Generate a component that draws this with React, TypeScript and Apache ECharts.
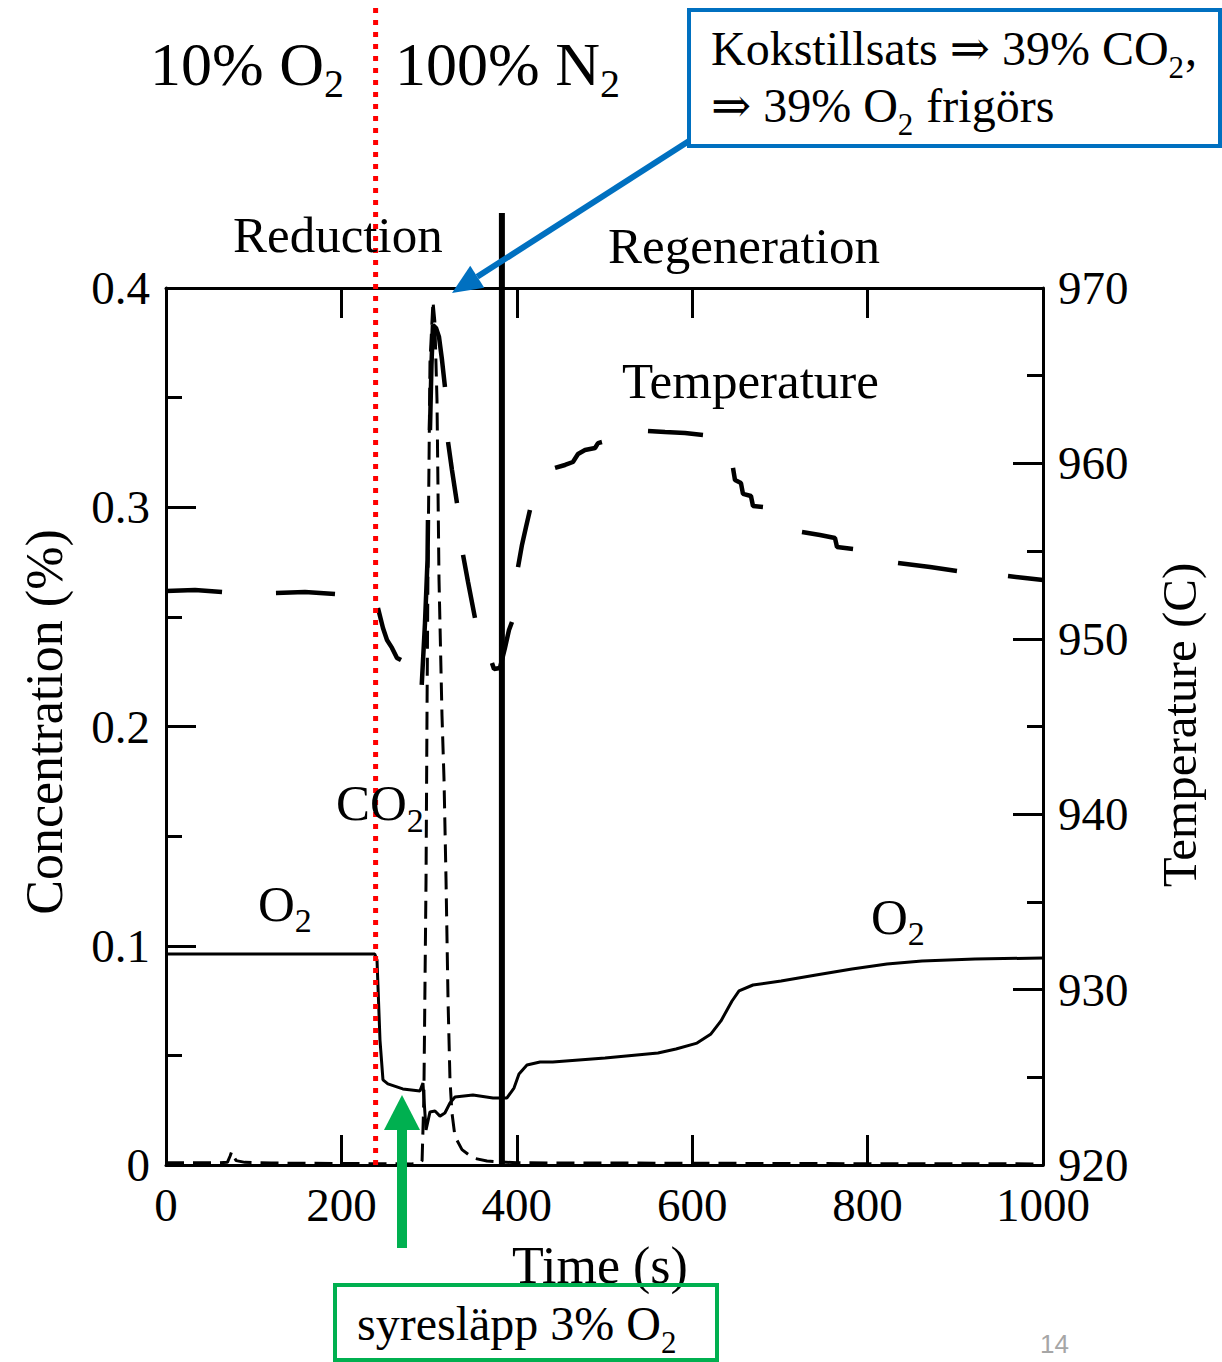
import React, { useEffect, useRef } from "react";
import * as echarts from "echarts";

// ---- data ----
const xTicks = { min: 0, max: 1000, step: 200 };
const concTicks = { min: 0, max: 0.4, step: 0.1, minor: 0.05 };
const tempTicks = { min: 920, max: 970, step: 10, minor: 5 };

const o2Time = [0, 238, 240.6, 244, 247.4, 253, 270, 289.6, 293, 296.5, 301, 306.7, 312.4, 318, 323.8, 329.5, 350, 372.9, 388.8, 396.8, 402.5, 411.6, 426.5, 441, 500.6, 561, 581.5, 605.5, 621.4, 632.8, 645.4, 653.4, 669.3, 701.3, 741.2, 782.2, 822.1, 862, 922.5, 1000];
const o2Conc = [0.0962, 0.0962, 0.0935, 0.057, 0.0388, 0.037, 0.0347, 0.0338, 0.0374, 0.016, 0.0242, 0.0246, 0.0223, 0.0237, 0.0283, 0.031, 0.0319, 0.0306, 0.0306, 0.0351, 0.0415, 0.0456, 0.047, 0.047, 0.0488, 0.0511, 0.0529, 0.0556, 0.0598, 0.0657, 0.0748, 0.0794, 0.0821, 0.0839, 0.0867, 0.0894, 0.0917, 0.093, 0.094, 0.0944];

const co2Time = [0, 60, 70, 73, 75, 77, 80, 90, 120, 200, 280, 290, 292, 294, 296.5, 297.7, 298.7, 301, 304.4, 306.5, 309, 311.3, 314.7, 317, 319.3, 321.6, 323.8, 326, 329.5, 337.5, 350, 366, 400, 500, 600, 800, 1000];
const co2Conc = [0.001, 0.001, 0.0012, 0.004, 0.0062, 0.004, 0.002, 0.0012, 0.0009, 0.0007, 0.0005, 0.0008, 0.002, 0.03, 0.13, 0.212, 0.271, 0.366, 0.394, 0.385, 0.349, 0.267, 0.205, 0.176, 0.13, 0.075, 0.039, 0.024, 0.013, 0.007, 0.0032, 0.0018, 0.001, 0.0009, 0.0008, 0.0006, 0.0005];

// null = gap between the visible long dashes of the temperature trace
const tempTime = [0, 33.1, 63.9, null, 125.4, 158.5, 192.7, null, 241.7, 247.4, 252, 257.7, 263.4, 268, null, 291.6, 295.3, 298.2, 298.7, null, 301, 302.7, 304.4, 307.9, 311.3, 314.7, 318.1, null, 321.6, 326.1, 331.8, null, 338.7, 344.4, 352.3, null, 371.7, 374, 380.8, 386.5, 391.1, 394.5, null, 401.4, 405.9, 410.5, 415, null, 443.6, 455, 464, 469.8, 477.8, 489.2, 492.6, 497.1, null, 549.6, 569, 591.8, 612.3, null, 646.5, 648.8, 655.6, 657.9, 667, 669.3, 680.7, null, 725.2, 745.7, 762.8, 765.1, 783.4, null, 834.7, 871.2, 901.9, null, 960.1, 979.5, 1000];
const tempValue = [952.73, 952.78, 952.67, null, 952.61, 952.67, 952.55, null, 951.76, 950.62, 949.93, 949.48, 948.91, 948.79, null, 947.37, 950.9, 954.49, 956.77, null, 961.9, 965.6, 967.89, 967.72, 967.21, 965.9, 964.36, null, 961.22, 959.62, 957.74, null, 954.78, 953.24, 951.19, null, 948.62, 948.28, 948.34, 949.48, 950.5, 950.96, null, 954.09, 955.35, 956.37, 957.34, null, 959.74, 959.91, 960.08, 960.54, 960.76, 960.88, 961.16, 961.22, null, 961.85, 961.79, 961.73, 961.62, null, 959.74, 959.05, 958.88, 958.26, 958.14, 957.57, 957.51, null, 956.09, 955.92, 955.75, 955.23, 955.12, null, 954.32, 954.09, 953.87, null, 953.58, 953.47, 953.35];

const gasSwitchTime = 239;
const phaseSwitchTime = 383;

const FONT = '"Liberation Serif", "Times New Roman", "DejaVu Serif", serif';
const BLUE = "#0070C0";
const GREEN = "#00B050";
const RED = "#FF0000";

const zip = (ts: (number | null)[], vs: (number | null)[]) =>
  ts.map((t, i) => (t === null || vs[i] === null ? ["-", "-"] : [t, vs[i]]));

let measureCtx: CanvasRenderingContext2D | null = null;
function textWidth(text: string, size: number) {
  if (!measureCtx) measureCtx = document.createElement("canvas").getContext("2d");
  measureCtx!.font = `${size}px ${FONT}`;
  return measureCtx!.measureText(text).width;
}

function txt(text: string, x: number, baseline: number, size: number, extra: any = {}) {
  const align = extra.align || "left";
  return {
    type: "text",
    x,
    y: baseline - 0.3375 * size,
    z: 100,
    rotation: extra.rotation || 0,
    style: {
      text,
      fontSize: size,
      fontFamily: extra.fontFamily || FONT,
      fill: extra.fill || "#000",
      align,
      textAlign: align,
      verticalAlign: "middle",
      textVerticalAlign: "middle",
    },
  };
}

// sequence of [text, isSub] pieces starting at x with given baseline
function subLine(pieces: [string, boolean][], x: number, baseline: number, size: number, subSize: number, drop: number) {
  const els: any[] = [];
  let cx = x;
  for (const [t, isSub] of pieces) {
    const s = isSub ? subSize : size;
    els.push(txt(t, cx, isSub ? baseline + drop : baseline, s));
    cx += textWidth(t, s) + (isSub ? 1 : 0);
  }
  return els;
}

function arrow(x1: number, y1: number, x2: number, y2: number, width: number, headLen: number, headHalf: number, color: string) {
  const dx = x2 - x1, dy = y2 - y1;
  const L = Math.hypot(dx, dy);
  const ux = dx / L, uy = dy / L;
  const bx = x2 - ux * headLen, by = y2 - uy * headLen;
  const px = -uy * headHalf, py = ux * headHalf;
  return [
    { type: "line", z: 101, shape: { x1, y1, x2: bx, y2: by }, style: { stroke: color, lineWidth: width } },
    { type: "polygon", z: 101, shape: { points: [[x2, y2], [bx + px, by + py], [bx - px, by - py]] }, style: { fill: color } },
  ];
}

export default function App() {
  const ref = useRef<HTMLDivElement>(null);
  useEffect(() => {
    const chart = echarts.init(ref.current!, null, { renderer: "svg" });
    const axisLine = { show: true, onZero: false, lineStyle: { color: "#000", width: 3 } };
    const noLine = { show: false, onZero: false };
    const label = { color: "#000", fontFamily: FONT, fontSize: 47, lineHeight: 38, formatter: (v: number) => String(v) };
    const major = { show: true, inside: true, length: 30, lineStyle: { color: "#000", width: 3 } };
    const minor = { show: true, inside: true, length: 16, lineStyle: { color: "#000", width: 3 } };
    chart.setOption({
      animation: false,
      backgroundColor: "#fff",
      grid: { left: 166, right: 179, top: 288, bottom: 197, containLabel: false, outerBoundsMode: "none" },
      xAxis: [
        {
          type: "value", position: "bottom", min: xTicks.min, max: xTicks.max, interval: xTicks.step,
          axisLine, splitLine: { show: false }, axisTick: major,
          axisLabel: { ...label, margin: 21 },
        },
        {
          type: "value", position: "top", min: xTicks.min, max: xTicks.max, interval: xTicks.step,
          axisLine, splitLine: { show: false }, axisTick: major,
          axisLabel: { show: false },
        },
      ],
      yAxis: [
        {
          type: "value", position: "left", min: concTicks.min, max: concTicks.max, interval: concTicks.step,
          axisLine, splitLine: { show: false }, axisTick: major,
          axisLabel: { ...label, margin: 16 },
        },
        {
          type: "value", position: "right", min: tempTicks.min, max: tempTicks.max, interval: tempTicks.step,
          axisLine, splitLine: { show: false }, axisTick: major,
          axisLabel: { ...label, margin: 15 },
        },
        {
          type: "value", position: "left", min: concTicks.min, max: concTicks.max, interval: concTicks.minor,
          axisLine: noLine, splitLine: { show: false }, axisLabel: { show: false }, axisTick: minor,
        },
        {
          type: "value", position: "right", min: tempTicks.min, max: tempTicks.max, interval: tempTicks.minor,
          axisLine: noLine, splitLine: { show: false }, axisLabel: { show: false }, axisTick: minor,
        },
      ],
      series: [
        {
          name: "O2", type: "line", xAxisIndex: 0, yAxisIndex: 0, data: zip(o2Time, o2Conc),
          symbol: "none", showSymbol: false, lineStyle: { color: "#000", width: 3 }, z: 3,
        },
        {
          name: "CO2", type: "line", xAxisIndex: 0, yAxisIndex: 0, data: zip(co2Time, co2Conc),
          symbol: "none", showSymbol: false, lineStyle: { color: "#000", width: 3, type: [18, 9] }, z: 3,
        },
        {
          name: "Temperature", type: "line", xAxisIndex: 0, yAxisIndex: 1, data: zip(tempTime, tempValue),
          symbol: "none", showSymbol: false, connectNulls: false, lineStyle: { color: "#000", width: 4.5 }, z: 3,
        },
      ],
    });

    const xRed = chart.convertToPixel({ xAxisIndex: 0 }, gasSwitchTime) as number;
    const xBlack = chart.convertToPixel({ xAxisIndex: 0 }, phaseSwitchTime) as number;
    const yBottom = chart.convertToPixel({ yAxisIndex: 0 }, concTicks.min) as number;

    const graphic: any[] = [
      { type: "line", z: 90, shape: { x1: xBlack, y1: 213, x2: xBlack, y2: yBottom }, style: { stroke: "#000", lineWidth: 6 } },
      { type: "line", z: 95, shape: { x1: xRed, y1: 8, x2: xRed, y2: yBottom }, style: { stroke: RED, lineWidth: 5, lineDash: [5, 7] } },
      ...subLine([["10% O", false], ["2", true]], 150, 85, 62, 40, 12),
      ...subLine([["100% N", false], ["2", true]], 395, 85, 62, 40, 12),
      txt("Reduction", 233, 252, 51),
      txt("Regeneration", 608, 263, 51),
      txt("Temperature", 622, 398, 51),
      ...subLine([["CO", false], ["2", true]], 336, 820, 51, 34, 12),
      ...subLine([["O", false], ["2", true]], 258, 921, 51, 34, 11),
      ...subLine([["O", false], ["2", true]], 871, 934, 51, 34, 11),
      txt("Time (s)", 600, 1283, 52, { align: "center" }),
      {
        type: "text", x: 44, y: 722, z: 100, rotation: Math.PI / 2,
        style: { text: "Concentration (%)", fontSize: 52, fontFamily: FONT, fill: "#000", align: "center", textAlign: "center", verticalAlign: "middle", textVerticalAlign: "middle" },
      },
      {
        type: "text", x: 1179, y: 725, z: 100, rotation: Math.PI / 2,
        style: { text: "Temperature (C)", fontSize: 49, fontFamily: FONT, fill: "#000", align: "center", textAlign: "center", verticalAlign: "middle", textVerticalAlign: "middle" },
      },
      // blue callout
      { type: "rect", z: 100, shape: { x: 689, y: 10, width: 531, height: 136 }, style: { fill: "#fff", stroke: BLUE, lineWidth: 4 } },
      ...subLine([["Kokstillsats \u21D2 39% CO", false], ["2", true], [",", false]], 711, 65, 48, 31, 13),
      ...subLine([["\u21D2 39% O", false], ["2", true], [" frigörs", false]], 711, 122, 48, 31, 13),
      ...arrow(689, 141, 452, 293, 6, 30, 13, BLUE),
      // green callout
      { type: "rect", z: 100, shape: { x: 335, y: 1285, width: 382, height: 75 }, style: { fill: "none", stroke: GREEN, lineWidth: 4 } },
      ...subLine([["syresläpp 3% O", false], ["2", true]], 357, 1340, 48, 31, 13),
      { type: "rect", z: 101, shape: { x: 397, y: 1126, width: 10, height: 122 }, style: { fill: GREEN } },
      { type: "polygon", z: 101, shape: { points: [[384, 1130], [420, 1130], [402, 1095]] }, style: { fill: GREEN } },
      txt("14", 1040, 1353, 26, { fill: "#A6A6A6", fontFamily: '"Liberation Sans", sans-serif' }),
    ];
    chart.setOption({ graphic });
    return () => chart.dispose();
  }, []);
  return <div ref={ref} style={{ position: "absolute", left: 0, top: 0, width: 1222, height: 1362 }} />;
}
